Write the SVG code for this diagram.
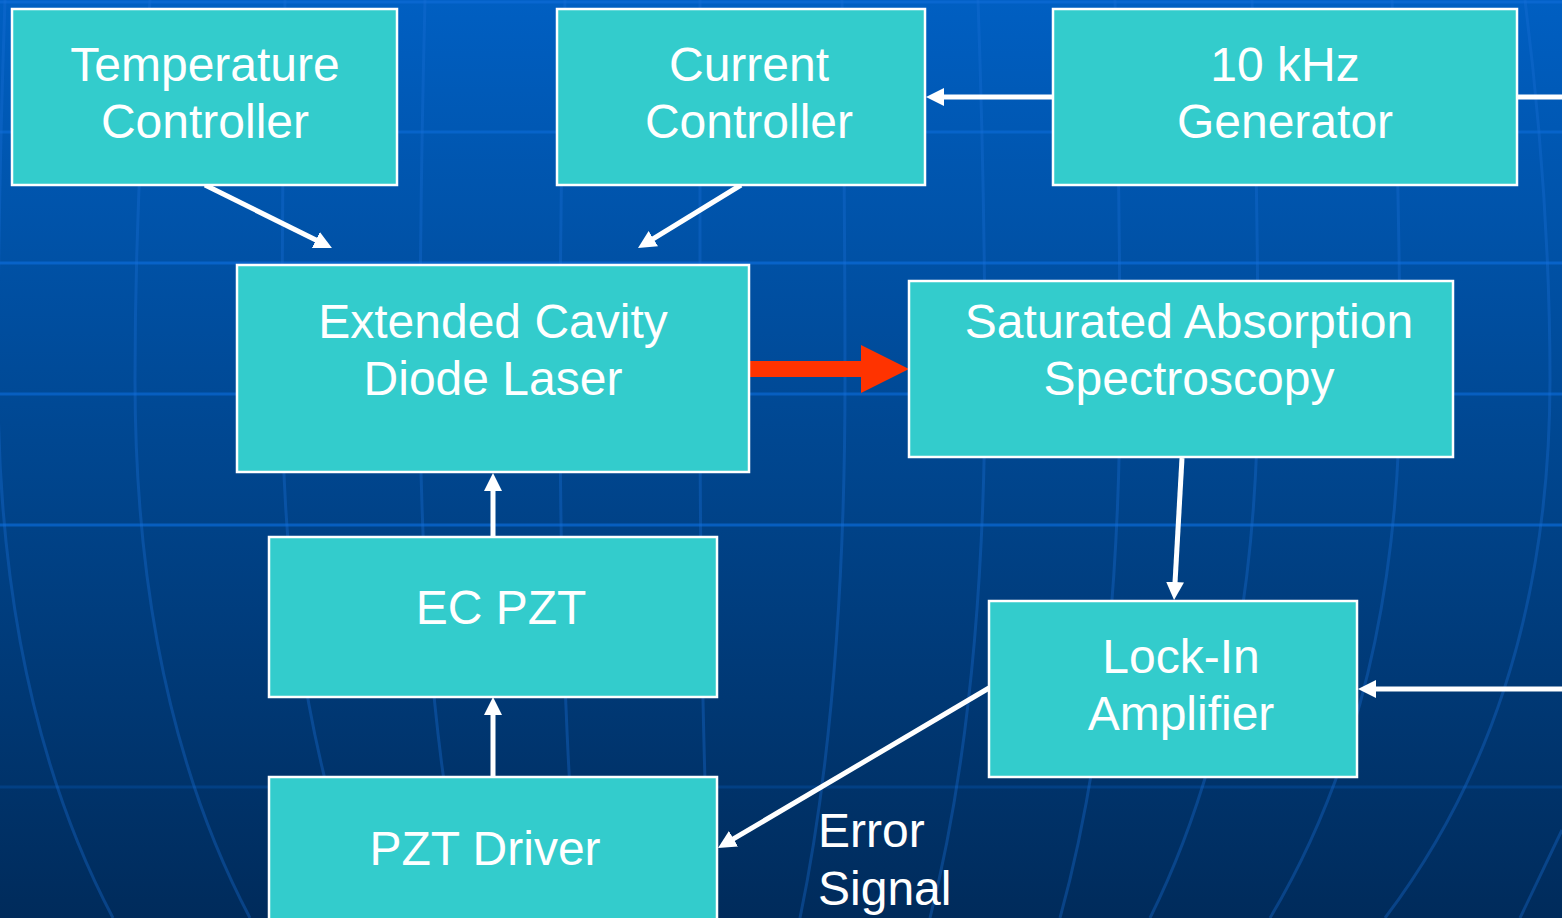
<svg xmlns="http://www.w3.org/2000/svg" width="1562" height="918" viewBox="0 0 1562 918">
<defs>
<linearGradient id="bg" x1="0" y1="0" x2="0" y2="1">
<stop offset="0" stop-color="#005FC2"/>
<stop offset="0.5" stop-color="#00468F"/>
<stop offset="1" stop-color="#002B5B"/>
</linearGradient>
<marker id="ah" markerUnits="userSpaceOnUse" markerWidth="18" markerHeight="18" refX="8" refY="9" orient="auto">
<path d="M0,0 L18,9 L0,18 z" fill="#FFFFFF"/>
</marker>
<style>
.box{fill:#33CCCC;stroke:#FFFFFF;stroke-width:2.5}
.t{font-family:"Liberation Sans",Arial,sans-serif;font-size:48px;fill:#FFFFFF;text-anchor:middle}
.tl{font-family:"Liberation Sans",Arial,sans-serif;font-size:48px;fill:#FFFFFF}
.c{stroke:#FFFFFF;stroke-width:5;fill:none;marker-end:url(#ah)}
.cn{stroke:#FFFFFF;stroke-width:5;fill:none}
.mer{stroke:#1A6FD6;stroke-width:3;fill:none;opacity:0.35}
.hl{stroke:#0A68D2;stroke-width:3}
</style>
</defs>
<rect x="0" y="0" width="1562" height="918" fill="url(#bg)"/>
<g id="background-grid">
<line class="hl" x1="0" y1="2" x2="1562" y2="2" opacity="0.9"/>
<line class="hl" x1="0" y1="132" x2="1562" y2="132" opacity="0.75"/>
<line class="hl" x1="0" y1="263" x2="1562" y2="263" opacity="0.8"/>
<line class="hl" x1="0" y1="394" x2="1562" y2="394" opacity="0.7"/>
<line class="hl" x1="0" y1="525" x2="1562" y2="525" opacity="0.75"/>
<line class="hl" x1="0" y1="787" x2="1562" y2="787" opacity="0.25"/>
<path class="mer" d="M5,0 Q-2,200 -2,380 Q-2,700 113,918"/>
<path class="mer" d="M150,0 Q135,200 135,380 Q135,700 250,918"/>
<path class="mer" d="M285,0 Q282,200 282,380 Q282,700 369,918"/>
<path class="mer" d="M425,0 Q420,200 420,380 Q420,700 468,918"/>
<path class="mer" d="M565,0 Q560,200 560,380 Q560,700 579,918"/>
<path class="mer" d="M700,0 Q700,200 700,380 Q700,700 710,918"/>
<path class="mer" d="M842,0 Q845,200 845,380 Q845,700 800,918"/>
<path class="mer" d="M978,0 Q985,200 985,380 Q985,700 930,918"/>
<path class="mer" d="M1115,0 Q1120,200 1120,380 Q1120,700 1060,918"/>
<path class="mer" d="M1252,0 Q1258,200 1258,380 Q1258,700 1150,918"/>
<path class="mer" d="M1392,0 Q1400,200 1400,380 Q1400,700 1270,918"/>
<path class="mer" d="M1525,0 Q1550,200 1550,380 Q1550,700 1385,918"/>
<path class="mer" d="M1562,830 L1520,918" opacity="0.25"/>
</g>
<g id="connectors">
<line class="c" x1="205" y1="185" x2="323" y2="243.6"/>
<line class="c" x1="741" y1="185" x2="646.5" y2="242.8"/>
<line class="c" x1="1053" y1="97" x2="936" y2="97"/>
<line class="cn" x1="1517" y1="97" x2="1562" y2="97"/>
<line class="c" x1="1562" y1="689" x2="1368" y2="689"/>
<line class="c" x1="1182" y1="458" x2="1174.6" y2="590"/>
<line class="c" x1="493" y1="537" x2="493" y2="483"/>
<line class="c" x1="493" y1="777" x2="493" y2="707"/>
<line class="c" x1="989" y1="688" x2="726.6" y2="842.9"/>
<polygon id="laser-beam" points="749,361 861,361 861,345 909,369 861,393 861,377 749,377" fill="#FF3300"/>
</g>
<g id="temperature-controller">
<rect class="box" x="12" y="9" width="385" height="176"/>
<text class="t" x="205" y="81">Temperature</text>
<text class="t" x="205" y="138">Controller</text>
</g>
<g id="current-controller">
<rect class="box" x="557" y="9" width="368" height="176"/>
<text class="t" x="749" y="81">Current</text>
<text class="t" x="749" y="138">Controller</text>
</g>
<g id="generator">
<rect class="box" x="1053" y="9" width="464" height="176"/>
<text class="t" x="1285" y="81">10 kHz</text>
<text class="t" x="1285" y="138">Generator</text>
</g>
<g id="ecdl">
<rect class="box" x="237" y="265" width="512" height="207"/>
<text class="t" x="493" y="338">Extended Cavity</text>
<text class="t" x="493" y="395">Diode Laser</text>
</g>
<g id="sas">
<rect class="box" x="909" y="281" width="544" height="176"/>
<text class="t" x="1189" y="338">Saturated Absorption</text>
<text class="t" x="1189" y="395">Spectroscopy</text>
</g>
<g id="ec-pzt">
<rect class="box" x="269" y="537" width="448" height="160"/>
<text class="t" x="501" y="624">EC PZT</text>
</g>
<g id="lock-in">
<rect class="box" x="989" y="601" width="368" height="176"/>
<text class="t" x="1181" y="673">Lock-In</text>
<text class="t" x="1181" y="730">Amplifier</text>
</g>
<g id="pzt-driver">
<rect class="box" x="269" y="777" width="448" height="160"/>
<text class="t" x="485" y="865">PZT Driver</text>
</g>
<g id="error-signal-label">
<text class="tl" x="818" y="847">Error</text>
<text class="tl" x="818" y="905">Signal</text>
</g>
</svg>
